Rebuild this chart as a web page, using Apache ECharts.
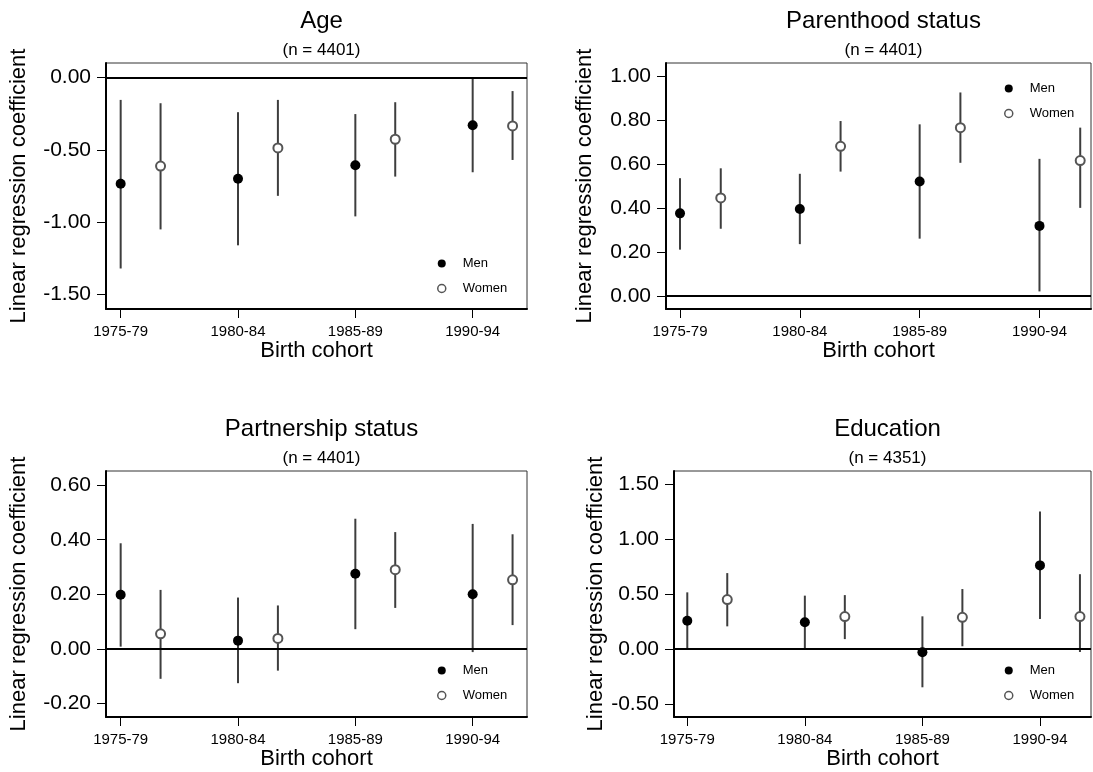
<!DOCTYPE html>
<html>
<head>
<meta charset="utf-8">
<script src="https://cdn.jsdelivr.net/npm/echarts@6/dist/echarts.min.js"></script>
<style>
  html, body { margin: 0; padding: 0; background: #fff; }
  #main { width: 1093px; height: 772px; }
</style>
</head>
<body>
<div id="main"></div>
<script>
(function () {
    // x categories
    const cohorts = ['1975-79', '1980-84', '1985-89', '1990-94'];

    // Age (n = 4401)
    const ageMen = [-0.735, -0.70, -0.607, -0.33];
    const ageMenLo = [-1.32, -1.16, -0.96, -0.655];
    const ageMenHi = [-0.155, -0.24, -0.253, 0.0];
    const ageWomen = [-0.612, -0.487, -0.427, -0.335];
    const ageWomenLo = [-1.05, -0.818, -0.685, -0.57];
    const ageWomenHi = [-0.178, -0.155, -0.171, -0.094];

    // Parenthood status (n = 4401)
    const parMen = [0.375, 0.395, 0.52, 0.318];
    const parMenLo = [0.21, 0.235, 0.26, 0.02];
    const parMenHi = [0.535, 0.555, 0.78, 0.623];
    const parWomen = [0.445, 0.68, 0.765, 0.615];
    const parWomenLo = [0.305, 0.565, 0.605, 0.40];
    const parWomenHi = [0.58, 0.795, 0.925, 0.765];

    // Partnership status (n = 4401)
    const ptnMen = [0.198, 0.03, 0.275, 0.20];
    const ptnMenLo = [0.008, -0.126, 0.072, -0.012];
    const ptnMenHi = [0.387, 0.188, 0.477, 0.458];
    const ptnWomen = [0.055, 0.038, 0.29, 0.253];
    const ptnWomenLo = [-0.11, -0.08, 0.15, 0.087];
    const ptnWomenHi = [0.216, 0.159, 0.428, 0.42];

    // Education (n = 4351)
    const eduMen = [0.257, 0.243, -0.03, 0.76];
    const eduMenLo = [0.0, 0.005, -0.348, 0.273];
    const eduMenHi = [0.515, 0.485, 0.297, 1.25];
    const eduWomen = [0.449, 0.295, 0.288, 0.295];
    const eduWomenLo = [0.206, 0.09, 0.025, -0.027];
    const eduWomenHi = [0.69, 0.49, 0.545, 0.68];

    // y tick labels
    const ageTicks = [-1.5, -1.0, -0.5, 0.0];
    const parTicks = [0.0, 0.2, 0.4, 0.6, 0.8, 1.0];
    const ptnTicks = [-0.2, 0.0, 0.2, 0.4, 0.6];
    const eduTicks = [-0.5, 0.0, 0.5, 1.0, 1.5];

    const FONT = 'Liberation Sans, Arial, Helvetica, sans-serif';
    const womenShift = 0.34;

    const panels = [
        { title: 'Age', n: 'n = 4401', men: ageMen, menLo: ageMenLo, menHi: ageMenHi,
          women: ageWomen, womenLo: ageWomenLo, womenHi: ageWomenHi, ticks: ageTicks,
          ymin: -1.6, ymax: 0.1, xmin: 0.875, xmax: 4.463,
          grid: { left: 106, top: 63, width: 421, height: 246 }, nameGap: 76,
          legend: { left: 432, top: 252 } },
        { title: 'Parenthood status', n: 'n = 4401', men: parMen, menLo: parMenLo, menHi: parMenHi,
          women: parWomen, womenLo: parWomenLo, womenHi: parWomenHi, ticks: parTicks,
          ymin: -0.06, ymax: 1.059, xmin: 0.883, xmax: 4.43,
          grid: { left: 666, top: 63, width: 425, height: 246 }, nameGap: 70,
          legend: { left: 999, top: 77 } },
        { title: 'Partnership status', n: 'n = 4401', men: ptnMen, menLo: ptnMenLo, menHi: ptnMenHi,
          women: ptnWomen, womenLo: ptnWomenLo, womenHi: ptnWomenHi, ticks: ptnTicks,
          ymin: -0.25, ymax: 0.652, xmin: 0.875, xmax: 4.463,
          grid: { left: 106, top: 471, width: 421, height: 246 }, nameGap: 76,
          legend: { left: 432, top: 659 } },
        { title: 'Education', n: 'n = 4351', men: eduMen, menLo: eduMenLo, menHi: eduMenHi,
          women: eduWomen, womenLo: eduWomenLo, womenHi: eduWomenHi, ticks: eduTicks,
          ymin: -0.618, ymax: 1.618, xmin: 0.887, xmax: 4.434,
          grid: { left: 674, top: 471, width: 417, height: 246 }, nameGap: 66,
          legend: { left: 999, top: 659 } }
    ];

    function errorBar(params, api) {
        const lo = api.coord([api.value(0), api.value(1)]);
        const hi = api.coord([api.value(0), api.value(2)]);
        return {
            type: 'line',
            shape: { x1: lo[0], y1: lo[1], x2: hi[0], y2: hi[1] },
            style: { stroke: '#3d3d3d', lineWidth: 2 }
        };
    }

    const option = {
        backgroundColor: '#fff',
        animation: false,
        textStyle: { fontFamily: FONT },
        title: [], grid: [], xAxis: [], yAxis: [], legend: [], series: []
    };

    panels.forEach(function (p, i) {
        const g = p.grid;
        option.grid.push({
            left: g.left, top: g.top, width: g.width, height: g.height,
            show: true, borderColor: '#333', borderWidth: 1, backgroundColor: 'transparent'
        });
        option.title.push({
            text: p.title,
            subtext: '(' + p.n + ')',
            left: g.left + g.width / 2,
            top: g.top - 59,
            textAlign: 'center',
            itemGap: 9,
            textStyle: { fontFamily: FONT, fontSize: 24, fontWeight: 'normal', color: '#000' },
            subtextStyle: { fontFamily: FONT, fontSize: 17, color: '#000' }
        });
        option.xAxis.push({
            type: 'value', gridIndex: i, min: p.xmin, max: p.xmax,
            name: 'Birth cohort', nameLocation: 'middle', nameGap: 31,
            nameTextStyle: { fontFamily: FONT, fontSize: 22, color: '#000' },
            axisLine: { show: true, onZero: false, lineStyle: { color: '#000', width: 2 } },
            axisTick: { show: true, length: 9, customValues: [1, 2, 3, 4], lineStyle: { color: '#000', width: 1 } },
            axisLabel: {
                customValues: [1, 2, 3, 4], margin: 15,
                fontFamily: FONT, fontSize: 15, color: '#000',
                formatter: function (v) { return cohorts[Math.round(v) - 1]; }
            },
            splitLine: { show: false }
        });
        option.yAxis.push({
            type: 'value', gridIndex: i, min: p.ymin, max: p.ymax,
            name: 'Linear regression coefficient', nameLocation: 'middle', nameGap: p.nameGap,
            nameTextStyle: { fontFamily: FONT, fontSize: 22, color: '#000' },
            axisLine: { show: true, onZero: false, lineStyle: { color: '#000', width: 2 } },
            axisTick: { show: true, length: 9, customValues: p.ticks, lineStyle: { color: '#000', width: 1 } },
            axisLabel: {
                customValues: p.ticks, margin: 15,
                fontFamily: FONT, fontSize: 21, color: '#000',
                formatter: function (v) { return v.toFixed(2); }
            },
            splitLine: { show: false }
        });
        option.legend.push({
            left: p.legend.left, top: p.legend.top, orient: 'vertical',
            itemWidth: 32, itemHeight: 8, itemGap: 12,
            textStyle: { fontFamily: FONT, fontSize: 13, color: '#000' },
            selectedMode: false,
            data: [
                { name: 'Men', icon: 'circle', itemStyle: { color: '#000' } },
                { name: 'Women', icon: 'circle', itemStyle: { color: '#fff', borderColor: '#555', borderWidth: 1.5 } }
            ]
        });

        const menBars = cohorts.map(function (c, k) { return [k + 1, p.menLo[k], p.menHi[k]]; });
        const womenBars = cohorts.map(function (c, k) { return [k + 1 + womenShift, p.womenLo[k], p.womenHi[k]]; });

        option.series.push({
            type: 'custom', name: 'menBars', xAxisIndex: i, yAxisIndex: i,
            renderItem: errorBar, encode: { x: 0, y: [1, 2] }, data: menBars, z: 2,
            markLine: {
                silent: true, symbol: 'none', label: { show: false },
                lineStyle: { color: '#000', width: 2, type: 'solid' },
                data: [{ yAxis: 0 }]
            }
        });
        option.series.push({
            type: 'custom', name: 'womenBars', xAxisIndex: i, yAxisIndex: i,
            renderItem: errorBar, encode: { x: 0, y: [1, 2] }, data: womenBars, z: 2
        });
        option.series.push({
            type: 'scatter', name: 'Men', xAxisIndex: i, yAxisIndex: i,
            symbol: 'circle', symbolSize: 10, z: 3,
            itemStyle: { color: '#000', opacity: 1 },
            data: p.men.map(function (v, k) { return [k + 1, v]; })
        });
        option.series.push({
            type: 'scatter', name: 'Women', xAxisIndex: i, yAxisIndex: i,
            symbol: 'circle', symbolSize: 9, z: 3,
            itemStyle: { color: '#fff', borderColor: '#555', borderWidth: 2, opacity: 1 },
            data: p.women.map(function (v, k) { return [k + 1 + womenShift, v]; })
        });
    });

    const myChart = echarts.init(document.getElementById('main'));
    myChart.setOption(option);
}());
</script>
</body>
</html>
